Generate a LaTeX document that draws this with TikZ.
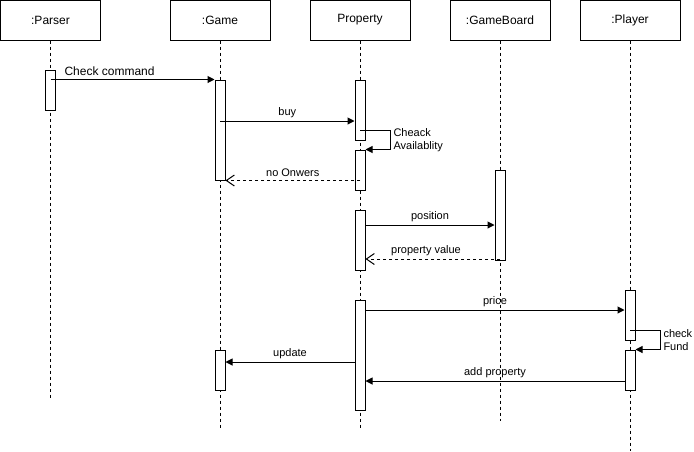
\documentclass[tikz,border=0pt]{standalone}
\usepackage{fontspec}
\setmainfont{Liberation Sans}
\usetikzlibrary{arrows.meta}

\begin{document}
\begin{tikzpicture}[
        x=1pt, y=-1pt,
        every node/.style={font=\fontsize{11}{13}\selectfont},
        head/.style={draw, rectangle, line width=1pt, fill=white, minimum width=100pt, minimum height=40pt, font=\fontsize{12}{14}\selectfont},
        life/.style={line width=1pt, dash pattern=on 3pt off 3pt},
        act/.style={draw, rectangle, line width=1pt, fill=white, minimum width=10pt, inner sep=0pt},
        msg/.style={-{Triangle[length=7pt,width=7pt]}, line width=1pt},
        ret/.style={-{Straight Barb[length=8pt,width=11pt]}, line width=1pt, dash pattern=on 3pt off 3pt},
        lbl/.style={above, inner sep=3pt}
    ]
        \useasboundingbox (0,0) rectangle (694,451);

        % Oggetti (header)
        \node[head] (parser) at (50.5,20) {:Parser};
        \node[head] (game) at (220,20) {:Game};
        \node[head] (property) at (360,20) {Property};
        \node[head] (board) at (500,20) {:GameBoard};
        \node[head] (player) at (630,20) {:Player};

        % Lifelines
        \coordinate (parserEnd) at (50.5,398);
        \coordinate (gameEnd) at (220,428);
        \coordinate (propertyEnd) at (360,428);
        \coordinate (boardEnd) at (500,421);
        \coordinate (playerEnd) at (630,451);
        \draw[life] (parser) -- (parserEnd);
        \draw[life] (game) -- (gameEnd);
        \draw[life] (property) -- (propertyEnd);
        \draw[life] (board) -- (boardEnd);
        \draw[life] (player) -- (playerEnd);

        % Attivazioni
        \node[act, minimum height=40pt] (pa1) at (50.5,90) {};
        \node[act, minimum height=100pt] (ga1) at (220,130) {};
        \node[act, minimum height=40pt] (ga2) at (220,370) {};
        \node[act, minimum height=60pt] (pr1) at (360,110) {};
        \node[act, minimum height=40pt] (pr2) at (360,170) {};
        \node[act, minimum height=60pt] (pr3) at (360,240) {};
        \node[act, minimum height=110pt] (pr4) at (360,355) {};
        \node[act, minimum height=90pt] (gb1) at (500,215) {};
        \node[act, minimum height=50pt] (pl1) at (630,315) {};
        \node[act, minimum height=40pt] (pl2) at (630,370) {};

        % Messaggi
        \draw[msg] (pa1 |- ga1.north) -- node[lbl, pos=0.36, font=\fontsize{12}{14}\selectfont] {Check command} (ga1.north west);
        \draw[msg] (ga1 |- 0,121) -- node[lbl] {buy} (pr1.west |- 0,121);
        \draw[msg] (pr1 |- 0,130) -- ++(30,0) |- node[pos=0.25, right, align=left, inner sep=3pt] {Cheack\\Availablity} (pr2.north east);
        \draw[ret] (pr2 |- ga1.south) -- node[lbl] {no Onwers} (ga1.south east);
        \draw[msg] (pr3.east |- 0,225) -- node[lbl] {position} (gb1.west |- 0,225);
        \draw[ret] (gb1 |- 0,259) -- node[lbl, pos=0.55] {property value} (pr3.east |- 0,259);
        \draw[msg] (pr4.east |- 0,310) -- node[lbl] {price} (pl1.west |- 0,310);
        \draw[msg] (pl1 |- 0,330) -- ++(30,0) |- node[pos=0.25, right, align=left, inner sep=3pt] {check\\Fund} (pl2.north east);
        \draw[msg] (pr4.west |- 0,362) -- node[lbl] {update} (ga2.east |- 0,362);
        \draw[msg] (pl2.west |- 0,381) -- node[lbl] {add property} (pr4.east |- 0,381);

    \end{tikzpicture}
\end{document}
